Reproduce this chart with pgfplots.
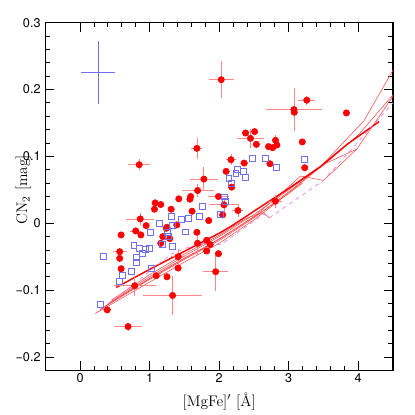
\documentclass[border=0pt]{standalone}
\usepackage{fontspec}
\usepackage{pgfplots}
\pgfplotsset{compat=1.18}
\newfontfamily\heros{TeX Gyre Heros}
\definecolor{sqblue}{RGB}{112,112,240}
\definecolor{errred}{RGB}{255,135,135}
\definecolor{modred}{RGB}{255,70,70}
\definecolor{dashmag}{RGB}{235,120,235}

\pgfplotstableread{
x y ex ey
2.03 0.2147 0.18 0.028
3.26 0.184 0.12 0.007
3.075 0.170 0.40 0.032
1.68 0.112 0.08 0.016
0.85 0.0875 0.16 0.008
1.78 0.066 0.20 0.018
1.69 0.049 0.23 0.010
2.45 0.127 0.19 0.014
2.81 0.124 0.0 0.008
2.17 0.095 0.07 0.008
2.36 0.090 0.06 0.0
2.07 0.0275 0.22 0.010
2.27 0.019 0.08 0.010
2.81 0.033 0.10 0.010
0.865 0.0065 0.20 0.009
0.80 -0.0115 0.08 0.0
0.785 -0.0935 0.30 0.015
1.33 -0.108 0.42 0.029
1.95 -0.0725 0.18 0.029
0.69 -0.1545 0.20 0.006
1.69 -0.030 0.0 0.018
1.41 -0.050 0.10 0.012
1.99 0.040 0.15 0.0
0.57 -0.0425 0.10 0.0
0.39 -0.1295 0.06 0.0
}\rederr

\pgfplotstableread{
x y
3.08 0.166
3.83 0.165
2.38 0.135
2.51 0.137
2.535 0.118
2.83 0.117
2.71 0.1146
2.77 0.113
3.195 0.1216
2.73 0.089
2.10 0.0776
3.23 0.083
2.18 0.054
2.05 0.0125
1.85 0.004
1.59 0.040
1.58 0.036
1.42 0.0365
1.08 0.0305
1.16 0.028
1.07 0.021
1.31 0.021
1.61 0.018
0.95 -0.0035
1.25 -0.006
1.24 -0.0075
1.39 -0.0025
0.875 -0.0175
0.59 -0.0175
1.68 -0.0135
1.19 -0.020
1.29 -0.023
1.16 -0.030
1.82 -0.0255
1.87 -0.032
0.57 -0.0525
1.82 -0.0415
1.99 -0.0455
0.59 -0.068
1.41 -0.067
1.095 -0.0785
1.25 -0.080
}\redpts

\pgfplotstableread{
x y
1.755 0.025
1.72 0.0105
1.56 0.007
1.46 0.0055
1.31 0.0105
1.14 -0.0005
1.33 -0.003
1.01 -0.0135
1.52 -0.013
1.25 -0.014
1.27 -0.0195
1.19 -0.032
1.33 -0.0345
0.775 -0.033
0.85 -0.037
0.94 -0.039
1.00 -0.038
0.895 -0.0455
0.81 -0.0505
0.335 -0.0495
0.81 -0.059
0.74 -0.0725
0.61 -0.078
0.57 -0.0865
1.03 -0.068
0.29 -0.1215
2.48 0.097
2.66 0.097
2.82 0.0836
3.23 0.096
2.26 0.0806
2.24 0.074
2.35 0.077
2.38 0.068
2.14 0.067
2.18 0.059
2.07 0.0395
2.09 0.0325
2.02 0.013
}\bluepts

\begin{document}
\begin{tikzpicture}
\begin{axis}[name=ax, scale only axis, width=261pt, height=261pt,
  xmin=-0.5, xmax=4.5, ymin=-0.22, ymax=0.3,
  xtick={0,1,2,3,4}, minor x tick num=4,
  ytick={-0.2,-0.1,0,0.1,0.2,0.3}, minor y tick num=4,
  yticklabels={−0.2,−0.1,0,0.1,0.2,0.3},
  xticklabels={0,1,2,3,4},
  tick label style={font=\heros\fontsize{9.5}{11}\selectfont},
  xticklabel style={yshift=1pt},
  major tick length=6.75pt, minor tick length=3.4pt,
  tick style={black, line width=0.6pt},
  axis line style={line width=0.8pt},
  xlabel={[MgFe]$'$ [Å]}, ylabel={CN$_2$ [mag]},
  label style={font=\fontsize{11.5}{13}\selectfont},
  xlabel style={at={(axis description cs:0.5,0)}, anchor=center, yshift=-23.5pt},
  ylabel style={at={(axis description cs:0,0.52)}, anchor=center, yshift=16.5pt},
  clip=true]

% model tracks
\addplot[modred, line width=0.4pt] coordinates {(0.22,-0.135) (0.6,-0.112) (1.0,-0.088) (1.5,-0.058) (2.0,-0.03) (2.5,0.005) (3.0,0.045) (3.46,0.085) (4.08,0.153) (4.5,0.229)};
\addplot[modred, line width=0.4pt] coordinates {(0.28,-0.13) (0.6,-0.108) (1.0,-0.084) (1.5,-0.054) (2.0,-0.026) (2.5,0.008) (3.0,0.047) (3.5,0.087) (4.0,0.132) (4.5,0.192)};
\addplot[modred, line width=0.4pt] coordinates {(0.35,-0.125) (0.7,-0.103) (1.0,-0.083) (1.5,-0.052) (2.0,-0.024) (2.5,0.010) (2.9,0.045) (3.17,0.0706) (3.5,0.064) (3.98,0.111) (4.5,0.19)};
\addplot[modred, line width=0.4pt] coordinates {(0.4,-0.12) (1.0,-0.080) (1.5,-0.049) (2.0,-0.020) (2.5,0.013) (3.0,0.050) (3.5,0.088) (3.98,0.111)};
\addplot[modred, line width=0.4pt] coordinates {(0.45,-0.115) (1.0,-0.077) (1.5,-0.046) (2.0,-0.018) (2.4,0.008) (2.645,0.0155) (2.72,0.008)};
\addplot[modred, line width=0.4pt] coordinates {(0.3,-0.128) (0.8,-0.095) (1.3,-0.064) (1.8,-0.036) (2.3,-0.004) (2.8,0.030) (3.2,0.060)};
\addplot[red, line width=1.1pt] coordinates {(0.52,-0.096) (1.0,-0.069) (1.5,-0.042) (2.0,-0.015) (2.21,-0.002) (2.5,0.018) (3.0,0.052) (3.46,0.085) (3.84,0.118) (4.3,0.152)};
\addplot[dashmag, dashed, line width=0.5pt] coordinates {(0.22,-0.135) (0.7,-0.097) (1.31,-0.046) (1.7,-0.030) (2.02,-0.032) (2.36,-0.007) (2.645,0.014) (2.72,0.008) (3.5,0.064) (4.5,0.18)};

% data
\addplot[errred, draw=none, mark=none,
  error bars/.cd, x dir=both, x explicit, y dir=both, y explicit,
  error mark=none, error bar style={errred, line width=0.6pt}]
  table[x=x, y=y, x error=ex, y error=ey] {\rederr};
\addplot[only marks, mark=*, mark size=2.4pt, red, mark options={draw=red, fill=red}] table[x=x, y=y] {\rederr};
\addplot[only marks, mark=*, mark size=2.4pt, red, mark options={draw=red, fill=red}] table[x=x, y=y] {\redpts};
\addplot[only marks, mark=square*, mark size=2.2pt, sqblue, mark options={draw=sqblue, fill=sqblue, fill opacity=0, line width=0.6pt}] table[x=x, y=y] {\bluepts};

% typical error
\addplot[sqblue, draw=none, mark=none,
  error bars/.cd, x dir=both, x fixed=0.24, y dir=both, y fixed=0.047,
  error mark=none, error bar style={sqblue, line width=0.6pt}]
  coordinates {(0.26,0.225)};
\end{axis}
\path ([shift={(-34pt,-33pt)}]ax.south west) rectangle ([shift={(16.5pt,17pt)}]ax.north east);
\end{tikzpicture}
\end{document}
